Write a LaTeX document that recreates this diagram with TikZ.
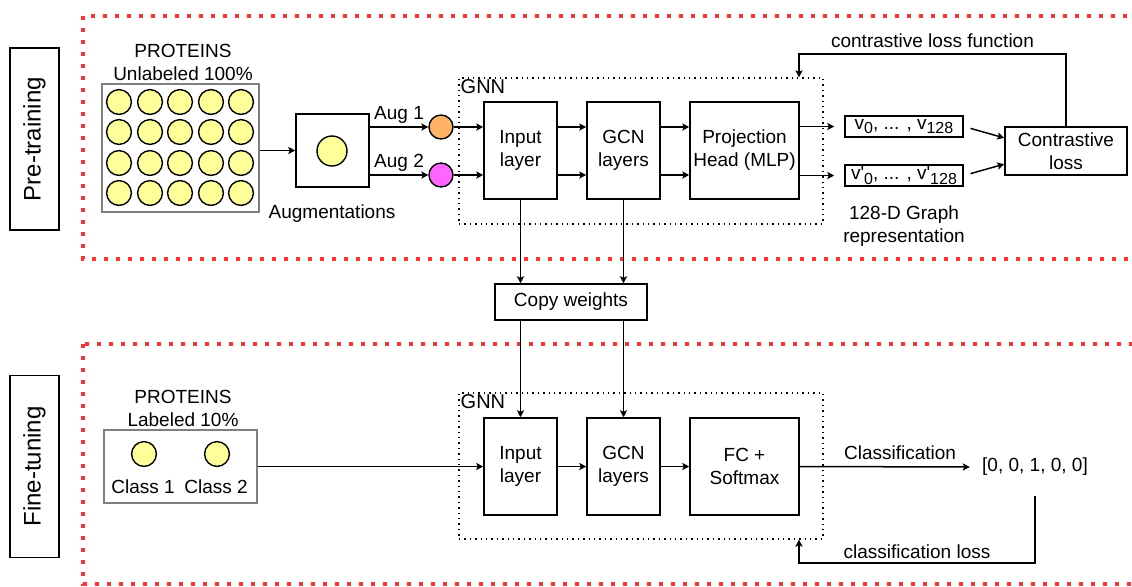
\documentclass[tikz,border=0pt]{standalone}
\usepackage{fontspec}
\setmainfont{Liberation Sans}
\usetikzlibrary{arrows.meta}

\definecolor{framered}{RGB}{255,51,51}
\definecolor{protyellow}{RGB}{255,255,153}
\definecolor{augorange}{RGB}{255,179,102}
\definecolor{augpink}{RGB}{255,102,255}
\definecolor{boxgray}{RGB}{128,128,128}

\newcommand\figfont{\fontsize{9.5}{11.5}\selectfont}
\newcommand\vsub[1]{\raisebox{-2.2pt}{\fontsize{8}{9}\selectfont #1}}

\tikzset{
  redframe/.style={draw=framered, line width=2pt, dash pattern=on 2pt off 4pt},
  txt/.style={font=\figfont, align=center, inner sep=1pt},
  box/.style={draw, line width=0.8pt, txt},
  layerbox/.style={box, minimum width=36.5pt, minimum height=48.5pt},
  graybox/.style={draw=boxgray, line width=0.8pt},
  gnnbox/.style={draw, dotted, line width=0.7pt, minimum width=182pt, minimum height=73pt},
  sidebox/.style={draw, line width=0.8pt, rotate=90, font=\fontsize{12}{14}\selectfont,
    minimum width=91pt, minimum height=24.5pt},
  prot/.style={circle, draw, line width=0.7pt, fill=protyellow, minimum size=12.4pt, inner sep=0pt},
  arr/.style={->, line width=0.75pt},
}

\begin{document}
\begin{tikzpicture}[x=0.5pt, y=-0.5pt, >={Stealth[length=3.5pt,width=3.6pt,inset=0.8pt]}]
\useasboundingbox (0,0) rectangle (1132,586);

% frames
\draw[redframe] (83,16) rectangle (1160,259);
\draw[redframe] (83,344) rectangle (1160,584);
\node[sidebox] (pre) at (34.5,139) {Pre-training};
\node[sidebox] (fine) at (34.5,466.5) {Fine-tuning};

% pre-training
\node[graybox, minimum width=78.5pt, minimum height=64pt] (data) at (180.5,148) {};
\node[txt] (datat) at (183,62) {PROTEINS\\Unlabeled 100\%};
\foreach \i/\x in {1/119, 2/150, 3/180, 4/211, 5/241}
  \foreach \j/\y in {1/102, 2/132, 3/163, 4/193}
    \node[prot] (d\i\j) at (\x,\y) {};

\node[box, minimum width=36.5pt, minimum height=36.5pt] (aug) at (332.5,150.5) {};
\node[prot, minimum size=15pt] (augc) at (332,151) {};
\node[txt] (augt) at (332,214) {Augmentations};
\node[prot, fill=augorange, minimum size=12pt] (a1) at (441,127) {};
\node[prot, fill=augpink, minimum size=12pt] (a2) at (441,175) {};

\node[gnnbox] (gnn1) at (641,151) {};
\node[txt, anchor=north west, font=\fontsize{10}{12}\selectfont] (gnn1t) at (gnn1.north west) {GNN};
\node[layerbox] (in1) at (520.5,150.5) {Input\\layer};
\node[layerbox] (gcn1) at (623.5,150.5) {GCN\\layers};
\node[layerbox, minimum width=54.5pt] (proj) at (744.5,150.5) {Projection\\Head (MLP)};

\node[box, minimum width=59pt, minimum height=10.5pt, inner ysep=0pt] (v1) at (904,126.5) {v\vsub{0}, ... , v\vsub{128}};
\node[box, minimum width=59pt, minimum height=10.5pt, inner ysep=0pt] (v2) at (904,175.5) {v\textquotesingle\vsub{0}, ... , v\textquotesingle\vsub{128}};
\node[txt] (rep) at (904,226) {128-D Graph\\representation};
\node[box, minimum width=61pt, minimum height=24pt] (closs) at (1066,151) {Contrastive\\loss};
\coordinate (clf) at (799,54);

\draw[arr] (aug.west -| data.east) -- (aug.west);
\draw[arr] (a1 -| aug.east) -- node[txt, above, inner sep=1.5pt] {Aug 1} (a1.west);
\draw[arr] (a2 -| aug.east) -- node[txt, above, inner sep=1.5pt] {Aug 2} (a2.west);
\foreach \a in {a1, a2} {
  \draw[arr] (\a.east) -- (\a -| in1.west);
  \draw[arr] (\a -| in1.east) -- (\a -| gcn1.west);
  \draw[arr] (\a -| gcn1.east) -- (\a -| proj.west);
}
\draw[arr, shorten >=5pt] (v1.west -| proj.east) -- (v1.west);
\draw[arr, shorten >=5pt] (v2.west -| proj.east) -- (v2.west);
\draw[arr, shorten <=3.5pt] (v1.east) -- (closs.168);
\draw[arr, shorten <=3.5pt] (v2.east) -- (closs.192);
\draw[arr] (closs.north) |- node[txt, pos=0.75, above, inner sep=3pt] {contrastive loss function} (clf) -- (clf |- gnn1.north);

% copy weights
\node[box, minimum width=76pt, minimum height=18pt] (copy) at (571,302) {Copy weights};
\draw[arr] (in1.south) -- (in1.south |- copy.north);
\draw[arr] (gcn1.south) -- (gcn1.south |- copy.north);

% fine-tuning
\node[graybox, minimum width=76.5pt, minimum height=36.5pt] (lab) at (180.5,466.5) {};
\node[txt] (labt) at (183,408) {PROTEINS\\Labeled 10\%};
\node[prot] (l1) at (144,454) {};
\node[prot] (l2) at (217,454) {};
\node[txt] (l1t) at (143,487) {Class 1};
\node[txt] (l2t) at (216,487) {Class 2};

\node[gnnbox] (gnn2) at (641,466) {};
\node[txt, anchor=north west, font=\fontsize{10}{12}\selectfont] (gnn2t) at (gnn2.north west) {GNN};
\node[layerbox] (in2) at (520.5,466.5) {Input\\layer};
\node[layerbox] (gcn2) at (623.5,466.5) {GCN\\layers};
\node[layerbox, minimum width=54.5pt] (fc) at (744.5,466.5) {FC +\\Softmax};
\node[txt, inner sep=3pt] (res) at (1035,467) {[0, 0, 1, 0, 0]};
\coordinate (cll) at (799,563);

\draw[arr] (copy.south -| in2.north) -- (in2.north);
\draw[arr] (copy.south -| gcn2.north) -- (gcn2.north);
\draw[arr] (lab.east) -- (in2.west);
\draw[arr] (in2.east) -- (gcn2.west);
\draw[arr] (gcn2.east) -- (fc.west);
\draw[arr, shorten >=3pt] (fc.east) -- node[txt, pos=0.57, above, inner sep=3pt] {Classification} (res.west);
\draw[arr, shorten <=7pt] (res.south) |- node[txt, pos=0.75, above, inner sep=2pt] {classification loss} (cll) -- (cll |- gnn2.south);
\end{tikzpicture}
\end{document}
